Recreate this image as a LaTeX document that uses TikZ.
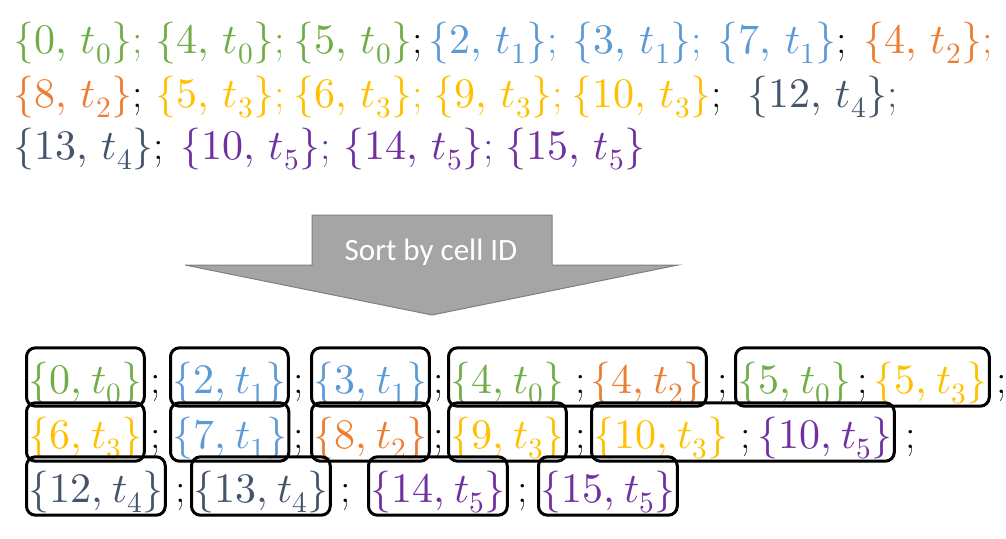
\documentclass[tikz,border=0pt]{standalone}
\usepackage{fontspec}
\usepackage{unicode-math}
\setmathfont{Latin Modern Math}
\newfontfamily\calibri{Carlito}
\usetikzlibrary{fit}
\definecolor{cg}{HTML}{70AD47}
\definecolor{cb}{HTML}{5B9BD5}
\definecolor{co}{HTML}{ED7D31}
\definecolor{cy}{HTML}{FFC000}
\definecolor{cd}{HTML}{44546A}
\definecolor{cp}{HTML}{7030A0}
\definecolor{arrowfill}{HTML}{A5A5A5}
\definecolor{arrowline}{HTML}{7F7F7F}
\newcommand{\cid}[2]{$\{#1,\mkern3mu t_{#2}\}$}
\newcommand{\cidb}[2]{$\{#1,\mkern1mu t_{#2}\}$}
\newcommand{\bsemi}{\textcolor{black}{;}}
\begin{document}
\begin{tikzpicture}[x=1pt,y=-1pt,
  itop/.style={anchor=base west, inner sep=0pt, font=\fontsize{42}{50}\selectfont},
  ibot/.style={anchor=base west, inner sep=0pt, font=\fontsize{42}{50}\selectfont, text height=45pt, text depth=13pt},
  semi/.style={anchor=base west, inner sep=0pt, font=\fontsize{42}{50}\selectfont, text=black},
  cellbox/.style={draw=black, line width=3pt, rounded corners=9pt, inner xsep=1.5pt, inner ysep=0pt},
  arrowshape/.style={fill=arrowfill, draw=arrowline, line width=1pt, line join=miter},
  arrowlabel/.style={font=\calibri\fontsize{31}{36}\selectfont, text=white, inner sep=0pt}]
\useasboundingbox (0,0) rectangle (1006,538);
% ---- top list ----
\node[itop,text=cg] (a1) at (13,53) {\cid{0}{0};};
\node[itop,text=cg] (a2) at (155,53) {\cid{4}{0};};
\node[itop,text=cg] (a3) at (293,53) {\cid{5}{0}\bsemi};
\node[itop,text=cb] (a4) at (428,53) {\cid{2}{1};};
\node[itop,text=cb] (a5) at (572,53) {\cid{3}{1};};
\node[itop,text=cb] (a6) at (717,53) {\cid{7}{1}\bsemi};
\node[itop,text=co] (a7) at (863,53) {\cid{4}{2};};
\node[itop,text=co] (b1) at (13,107) {\cid{8}{2}\bsemi};
\node[itop,text=cy] (b2) at (155,107) {\cid{5}{3};};
\node[itop,text=cy] (b3) at (293,107) {\cid{6}{3};};
\node[itop,text=cy] (b4) at (433,107) {\cid{9}{3};};
\node[itop,text=cy] (b5) at (571,107) {\cid{10}{3}\bsemi};
\node[itop,text=cd] (b6) at (747,107) {\cid{12}{4};};
\node[itop,text=cd] (c1) at (13,159) {\cid{13}{4}\bsemi};
\node[itop,text=cp] (c2) at (180,159) {\cid{10}{5};};
\node[itop,text=cp] (c3) at (343,159) {\cid{14}{5};};
\node[itop,text=cp] (c4) at (505,159) {\cid{15}{5}};
% ---- arrow ----
\draw[arrowshape] (312,215) -- (552,215) -- (552,265) -- (678,265) -- (432,315) -- (185,265) -- (312,265) -- cycle;
\node[arrowlabel] (sortlbl) at (431,252) {Sort by cell ID};
% ---- sorted list ----
\node[ibot,text=cg] (r11) at (28,393) {\cidb{0}{0}};
\node[semi] (s11) at (150,393) {;};
\node[ibot,text=cb] (r12) at (172,393) {\cidb{2}{1}};
\node[semi] (s12) at (293,393) {;};
\node[ibot,text=cb] (r13) at (313,393) {\cidb{3}{1}};
\node[semi] (s13) at (433,393) {;};
\node[ibot,text=cg] (r14) at (450,393) {\cidb{4}{0}};
\node[semi] (s14) at (575,393) {;};
\node[ibot,text=co] (r15) at (590,393) {\cidb{4}{2}};
\node[semi] (s15) at (717,393) {;};
\node[ibot,text=cg] (r16) at (737,393) {\cidb{5}{0}};
\node[semi] (s16) at (857,393) {;};
\node[ibot,text=cy] (r17) at (873,393) {\cidb{5}{3}};
\node[semi] (s17) at (996,393) {;};
\node[ibot,text=cy] (r21) at (28,448) {\cidb{6}{3}};
\node[semi] (s21) at (150,448) {;};
\node[ibot,text=cb] (r22) at (172,448) {\cidb{7}{1}};
\node[semi] (s22) at (293,448) {;};
\node[ibot,text=co] (r23) at (313,448) {\cidb{8}{2}};
\node[semi] (s23) at (433,448) {;};
\node[ibot,text=cy] (r24) at (450,448) {\cidb{9}{3}};
\node[semi] (s24) at (575,448) {;};
\node[ibot,text=cy] (r25) at (593,448) {\cidb{10}{3}};
\node[semi] (s25) at (740,448) {;};
\node[ibot,text=cp] (r26) at (757,448) {\cidb{10}{5}};
\node[semi] (s26) at (905,448) {;};
\node[ibot,text=cd] (r31) at (28,502) {\cidb{12}{4}};
\node[semi] (s31) at (175,502) {;};
\node[ibot,text=cd] (r32) at (193,502) {\cidb{13}{4}};
\node[semi] (s32) at (340,502) {;};
\node[ibot,text=cp] (r33) at (370,502) {\cidb{14}{5}};
\node[semi] (s33) at (517,502) {;};
\node[ibot,text=cp] (r34) at (540,502) {\cidb{15}{5}};
% ---- boxes ----
\node[cellbox, fit=(r11)] (k11) {};
\node[cellbox, fit=(r12)] (k12) {};
\node[cellbox, fit=(r13)] (k13) {};
\node[cellbox, fit=(r14)(r15)] (k14) {};
\node[cellbox, fit=(r16)(r17)] (k15) {};
\node[cellbox, fit=(r21)] (k21) {};
\node[cellbox, fit=(r22)] (k22) {};
\node[cellbox, fit=(r23)] (k23) {};
\node[cellbox, fit=(r24)] (k24) {};
\node[cellbox, fit=(r25)(r26)] (k25) {};
\node[cellbox, fit=(r31)] (k31) {};
\node[cellbox, fit=(r32)] (k32) {};
\node[cellbox, fit=(r33)] (k33) {};
\node[cellbox, fit=(r34)] (k34) {};
\end{tikzpicture}
\end{document}
